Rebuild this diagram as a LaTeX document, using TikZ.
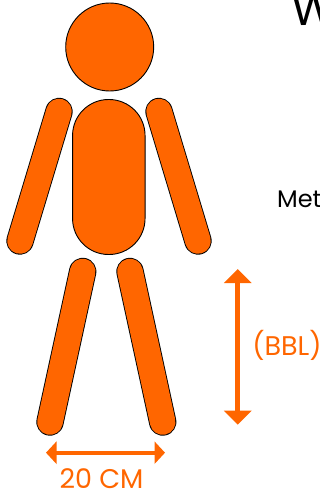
\documentclass[tikz,border=0pt]{standalone}
\usepackage{fontspec}
\setmainfont{Poppins}
\usetikzlibrary{arrows.meta}
\definecolor{bodyorange}{HTML}{FF6600}
\tikzset{
  part/.style={fill=bodyorange,draw=black,line width=0.9pt,inner sep=0pt,outer sep=0pt},
  limbout/.style={draw=black,line width=27.4pt,line cap=round},
  limbin/.style={draw=bodyorange,line width=25.6pt,line cap=round},
  dimtext/.style={text=bodyorange,inner sep=0pt,anchor=base,font=\fontsize{27}{27}\selectfont},
  blacktext/.style={text=black,inner sep=0pt,anchor=base west}
}
\begin{document}
\begin{tikzpicture}[x=1pt,y=-1pt]
\useasboundingbox (0,0) rectangle (320,492);
\node[part,circle,minimum size=88pt] (head) at (109.7,47) {};
\node[part,rounded corners=36pt,minimum width=72.5pt,minimum height=155pt] (torso) at (108.8,177) {};
\coordinate (la1) at (59,111.5); \coordinate (la2) at (20,241);
\coordinate (ra1) at (159,111.5); \coordinate (ra2) at (198,241);
\coordinate (ll1) at (82.7,271.5); \coordinate (ll2) at (50,422);
\coordinate (rl1) at (130,271.5); \coordinate (rl2) at (162.7,422);
\foreach \a/\b in {la1/la2,ra1/ra2,ll1/ll2,rl1/rl2}{
  \draw[limbout] (\a) -- (\b);
  \draw[limbin] (\a) -- (\b);
}
\coordinate (vt) at (237.7,269); \coordinate (vb) at (237.7,424.7);
\coordinate (hl) at (46,452.7); \coordinate (hr) at (165,452.7);
\draw[bodyorange,line width=5pt,{Triangle[width=27pt,length=14pt]}-{Triangle[width=27pt,length=14pt]}] (vt) -- (vb);
\draw[bodyorange,line width=4pt,{Triangle[width=22pt,length=10.5pt]}-{Triangle[width=22pt,length=10.5pt]}] (hl) -- (hr);
\node[dimtext] (bbl) at (287,355) {(BBL)};
\node[dimtext] (cm) at (101.5,488) {20 CM};
\node[blacktext,font=\fontsize{46}{46}\selectfont] (title) at (291,26) {W};
\node[blacktext,font=\fontsize{24}{24}\selectfont] (met) at (277,207) {Met};
\end{tikzpicture}
\end{document}
